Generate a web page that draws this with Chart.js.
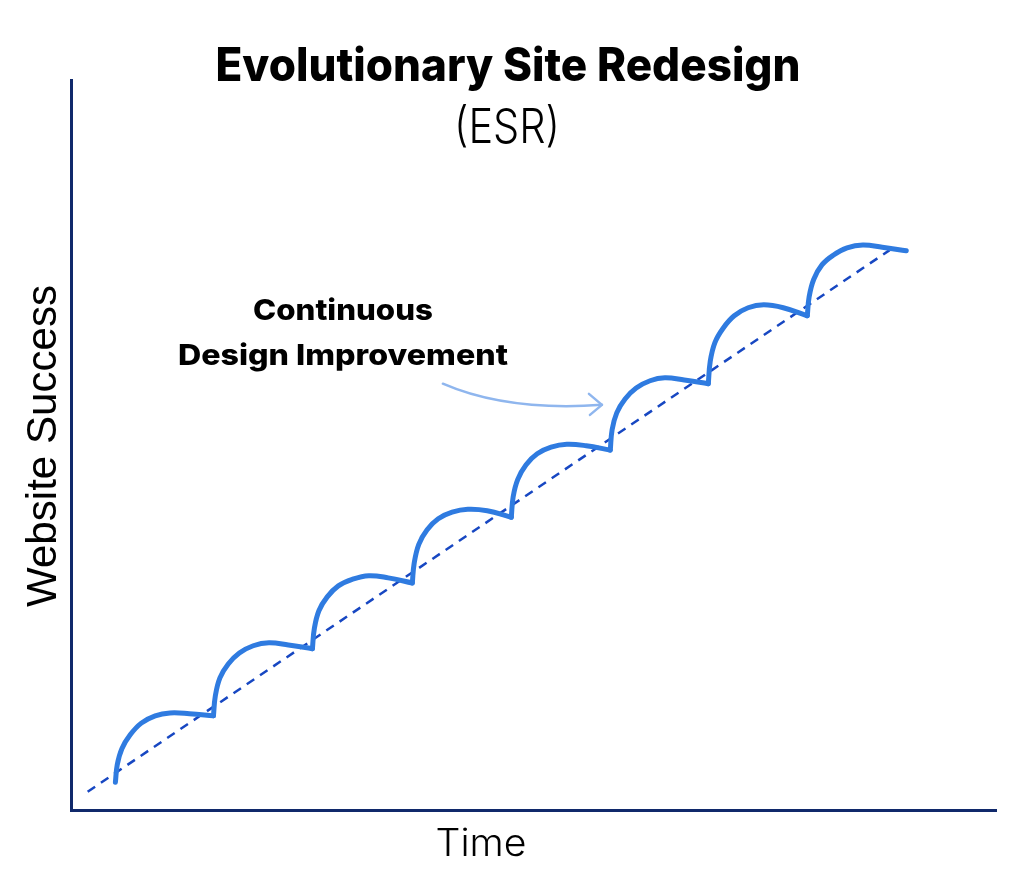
<!DOCTYPE html>
<html>
<head>
<meta charset="utf-8">
<title>Evolutionary Site Redesign (ESR)</title>
<script src="https://cdn.jsdelivr.net/npm/chart.js@4.4.1/dist/chart.umd.min.js"></script>
<style>
    html, body { margin: 0; padding: 0; background: #ffffff; }
    #wrap { width: 1024px; height: 889px; }
</style>
</head>
<body>
<div id="wrap"><canvas id="esrChart" width="1024" height="889"></canvas></div>
<script>
// Textos
const chartTitle = 'Evolutionary Site Redesign';
const chartSubtitle = '(ESR)';
const xTitle = 'Time';
const yTitle = 'Website Success';
const noteLines = ['Continuous', 'Design Improvement'];

// Tendencia (línea discontinua)
const trendTime = [1.8, 88.5];
const trendSuccess = [2.5, 76.7];

// Ciclos de rediseño (curva continua), uno por ciclo
const cycleTime = [
    [4.8, 5.0, 5.5, 6.4, 7.6, 9.1, 10.7, 12.8, 15.4],
    [15.4, 15.6, 16.1, 17.0, 18.2, 19.7, 21.4, 23.5, 26.1],
    [26.1, 26.3, 26.8, 27.7, 28.9, 30.4, 32.2, 34.3, 36.9],
    [36.9, 37.1, 37.6, 38.5, 39.7, 41.2, 42.9, 45.0, 47.6],
    [47.6, 47.8, 48.3, 49.2, 50.4, 51.9, 53.6, 55.7, 58.3],
    [58.3, 58.5, 59.0, 59.9, 61.1, 62.6, 64.2, 66.3, 68.9],
    [68.9, 69.1, 69.6, 70.5, 71.7, 73.2, 74.9, 77.0, 79.6],
    [79.6, 79.8, 80.3, 81.2, 82.4, 83.9, 85.6, 87.7, 90.3]
];
const cycleSuccess = [
    [3.8, 6.2, 8.4, 10.3, 11.9, 12.9, 13.3, 13.2, 12.9],
    [12.9, 15.6, 18.1, 20.0, 21.5, 22.5, 22.9, 22.6, 22.1],
    [22.1, 24.8, 27.3, 29.2, 30.7, 31.6, 32.1, 31.8, 31.1],
    [31.1, 33.8, 36.4, 38.4, 39.9, 40.8, 41.2, 41.0, 40.1],
    [40.1, 42.9, 45.3, 47.3, 48.8, 49.7, 50.1, 49.9, 49.3],
    [49.3, 52.1, 54.4, 56.3, 57.8, 58.8, 59.2, 58.9, 58.4],
    [58.4, 61.4, 64.0, 66.0, 67.7, 68.8, 69.2, 68.8, 67.7],
    [67.7, 70.3, 72.7, 74.7, 76.0, 77.0, 77.4, 77.1, 76.6]
];

// Posición de la anotación (en unidades de los ejes)
const note = { time: 29.4, success: [67.1, 61.0], widths: [180, 330] };
const arrow = { time: [40.2, 44.2, 49.6, 57.4], success: [58.4, 56.2, 54.8, 55.5] };

// Colores
const curveColor = '#2f7be0';
const trendColor = '#1747c2';
const axisColor = '#10296b';
const arrowColor = '#8fb6ee';

// Dibuja un texto centrado, ajustado a un ancho
function fitText(ctx, text, x, y, font, width, angle) {
    ctx.save();
    ctx.font = font;
    const w = ctx.measureText(text).width;
    ctx.translate(x, y);
    if (angle) ctx.rotate(angle);
    ctx.scale(width / w, 1);
    ctx.textAlign = 'center';
    ctx.textBaseline = 'alphabetic';
    ctx.fillText(text, 0, 0);
    ctx.restore();
}

const textPlugin = {
    id: 'esrText',
    afterDraw(chart) {
        const ctx = chart.ctx;
        const xs = chart.scales.x;
        const ys = chart.scales.y;
        ctx.fillStyle = '#000000';

        fitText(ctx, chartTitle, 508, 81, '800 46px Inter', 585);
        fitText(ctx, chartSubtitle, 507, 143, '300 48px Inter', 106);
        fitText(ctx, xTitle, 481, 856, '300 38px Inter', 91);
        fitText(ctx, yTitle, 56, 446, '42px "Liberation Sans"', 322, -Math.PI / 2);

        // Anotación
        const nx = xs.getPixelForValue(note.time);
        noteLines.forEach(function(line, i) {
            fitText(ctx, line, nx, ys.getPixelForValue(note.success[i]), '800 29px Inter', note.widths[i]);
        });

        // Flecha curva
        const p = arrow.time.map(function(t, i) {
            return [xs.getPixelForValue(t), ys.getPixelForValue(arrow.success[i])];
        });
        ctx.save();
        ctx.strokeStyle = arrowColor;
        ctx.lineWidth = 2.5;
        ctx.lineCap = 'round';
        ctx.lineJoin = 'round';
        ctx.beginPath();
        ctx.moveTo(p[0][0], p[0][1]);
        ctx.bezierCurveTo(p[1][0], p[1][1], p[2][0], p[2][1], p[3][0], p[3][1]);
        ctx.stroke();
        const tip = p[3];
        ctx.beginPath();
        ctx.moveTo(tip[0] - 13, tip[1] - 11);
        ctx.lineTo(tip[0], tip[1]);
        ctx.lineTo(tip[0] - 12, tip[1] + 10);
        ctx.stroke();
        ctx.restore();
    }
};

const cycleDatasets = cycleTime.map(function(times, i) {
    return {
        data: times.map(function(t, j) { return { x: t, y: cycleSuccess[i][j] }; }),
        borderColor: curveColor,
        borderWidth: 5,
        borderCapStyle: 'round',
        borderJoinStyle: 'round',
        pointRadius: 0,
        tension: 0.4,
        fill: false,
        order: 1
    };
});

const trendDataset = {
    data: trendTime.map(function(t, i) { return { x: t, y: trendSuccess[i] }; }),
    borderColor: trendColor,
    borderWidth: 2.5,
    borderDash: [9, 7],
    pointRadius: 0,
    fill: false,
    order: 2
};

new Chart(document.getElementById('esrChart'), {
    type: 'line',
    data: { datasets: [trendDataset].concat(cycleDatasets) },
    options: {
        responsive: false,
        animation: false,
        layout: { padding: { left: 71, right: 28, top: 80, bottom: 79 } },
        scales: {
            x: {
                type: 'linear',
                min: 0,
                max: 100,
                grid: { display: false, drawTicks: false },
                ticks: { display: false },
                border: { display: true, color: axisColor, width: 3 }
            },
            y: {
                type: 'linear',
                min: 0,
                max: 100,
                grid: { display: false, drawTicks: false },
                ticks: { display: false },
                border: { display: true, color: axisColor, width: 3 }
            }
        },
        plugins: {
            legend: { display: false },
            tooltip: { enabled: false },
            title: { display: false }
        }
    },
    plugins: [textPlugin]
});
</script>
</body>
</html>
